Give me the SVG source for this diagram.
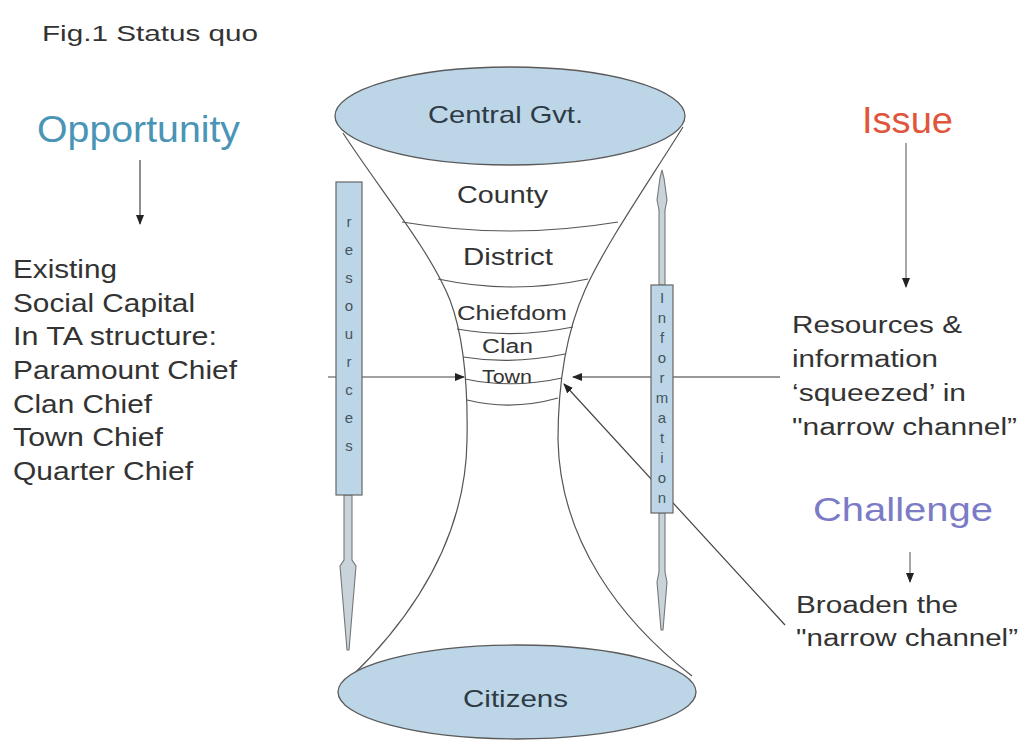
<svg xmlns="http://www.w3.org/2000/svg" width="1019" height="743" viewBox="0 0 1019 743">
<style>
text{font-family:"Liberation Sans",Arial,sans-serif;}
.t{fill:#333;}
.n{fill:#2e3b46;}
.v{fill:#46545f;font-size:15px;text-anchor:middle;}
.ell{fill:#bcd6e7;stroke:#5a5a5a;stroke-width:1.3;}
.fun{fill:none;stroke:#555;stroke-width:1.2;}
.con{fill:none;stroke:#444;stroke-width:1.2;}
.gcon{fill:none;stroke:#777;stroke-width:1.3;}
.bar{fill:#bcd6e7;stroke:#666;stroke-width:1.2;}
.shaft{fill:#c9d3da;stroke:#777;stroke-width:1.1;}
</style>
<defs>
<marker id="ah" markerWidth="10" markerHeight="8" refX="9" refY="4" orient="auto" markerUnits="userSpaceOnUse">
<path d="M0,0 L10,4 L0,8 Z" fill="#222"/>
</marker>
</defs>
<rect width="1019" height="743" fill="#fff"/>

<g id="connectors">
<line class="con" x1="328" y1="377" x2="464" y2="377" marker-end="url(#ah)"/>
<line class="gcon" x1="780" y1="377" x2="573" y2="377" marker-end="url(#ah)"/>
<line class="con" x1="785" y1="625" x2="564" y2="384" marker-end="url(#ah)"/>
<line class="con" x1="140" y1="160" x2="140" y2="224" marker-end="url(#ah)"/>
<line class="gcon" x1="906" y1="143" x2="906" y2="287" marker-end="url(#ah)"/>
<line class="gcon" x1="910" y1="552" x2="910" y2="582" marker-end="url(#ah)"/>
</g>

<g id="funnel">
<path class="fun" d="M343,133 C380,190 430,250 450,300 C465,340 468,390 467,440 C466,530 420,610 350,678"/>
<path class="fun" d="M683,127 C650,180 605,245 585,290 C565,335 558,390 558,440 C560,540 620,620 692,676"/>
<path class="fun" d="M402,222 Q510,240 618,222"/>
<path class="fun" d="M438,279 Q513,295 588,279"/>
<path class="fun" d="M457,329 Q515,339 573,327"/>
<path class="fun" d="M463,357 Q512,365 565,354"/>
<path class="fun" d="M465,379 Q512,389 562,378"/>
<path class="fun" d="M467,400 Q512,411 558,398"/>
</g>

<g id="central">
<ellipse class="ell" cx="510" cy="116" rx="175" ry="49"/>
<text class="n" x="428" y="123" font-size="24" textLength="155" lengthAdjust="spacingAndGlyphs">Central Gvt.</text>
</g>
<g id="county"><text class="t" x="457" y="203" font-size="24" textLength="91" lengthAdjust="spacingAndGlyphs">County</text></g>
<g id="district"><text class="t" x="463" y="265" font-size="24" textLength="90" lengthAdjust="spacingAndGlyphs">District</text></g>
<g id="chiefdom"><text class="t" x="457" y="320" font-size="21" textLength="110" lengthAdjust="spacingAndGlyphs">Chiefdom</text></g>
<g id="clan"><text class="t" x="482" y="353" font-size="20" textLength="51" lengthAdjust="spacingAndGlyphs">Clan</text></g>
<g id="town"><text class="t" x="482" y="383" font-size="18" textLength="50" lengthAdjust="spacingAndGlyphs">Town</text></g>
<g id="citizens">
<ellipse class="ell" cx="517" cy="692" rx="179" ry="47"/>
<text class="n" x="463" y="707" font-size="24" textLength="105" lengthAdjust="spacingAndGlyphs">Citizens</text>
</g>

<g id="resources">
<polygon class="shaft" points="344,495 352,495 352,560 356,566 354,590 349,650 347,650 342,590 340,566 344,560"/>
<rect class="bar" x="336" y="182" width="26" height="313"/>
<text class="v" x="349" y="227">r</text>
<text class="v" x="349" y="255">e</text>
<text class="v" x="349" y="283">s</text>
<text class="v" x="349" y="311">o</text>
<text class="v" x="349" y="339">u</text>
<text class="v" x="349" y="367">r</text>
<text class="v" x="349" y="395">c</text>
<text class="v" x="349" y="423">e</text>
<text class="v" x="349" y="451">s</text>
</g>

<g id="information">
<polygon class="shaft" points="662,170 664,178 667,200 665,210 665,285 659,285 659,210 657,200 660,178"/>
<polygon class="shaft" points="659,513 665,513 665,572 667,582 663,630 661,630 657,582 659,572"/>
<rect class="bar" x="651" y="285" width="22" height="228"/>
<text class="v" x="662" y="303">I</text>
<text class="v" x="662" y="323">n</text>
<text class="v" x="662" y="343">f</text>
<text class="v" x="662" y="363">o</text>
<text class="v" x="662" y="383">r</text>
<text class="v" x="662" y="403">m</text>
<text class="v" x="662" y="423">a</text>
<text class="v" x="662" y="443">t</text>
<text class="v" x="662" y="463">i</text>
<text class="v" x="662" y="483">o</text>
<text class="v" x="662" y="503">n</text>
</g>

<g id="title"><text class="t" x="42" y="41" font-size="22" textLength="216" lengthAdjust="spacingAndGlyphs">Fig.1 Status quo</text></g>

<g id="opportunity">
<text x="37" y="142" font-size="37" fill="#4a94b6" textLength="203" lengthAdjust="spacingAndGlyphs">Opportunity</text>
</g>
<g id="social-capital" class="t" font-size="25">
<text x="13" y="278" textLength="104" lengthAdjust="spacingAndGlyphs">Existing</text>
<text x="13" y="312" textLength="182" lengthAdjust="spacingAndGlyphs">Social Capital</text>
<text x="13" y="345" textLength="204" lengthAdjust="spacingAndGlyphs">In TA structure:</text>
<text x="13" y="379" textLength="224" lengthAdjust="spacingAndGlyphs">Paramount Chief</text>
<text x="13" y="413" textLength="139" lengthAdjust="spacingAndGlyphs">Clan Chief</text>
<text x="13" y="446" textLength="150" lengthAdjust="spacingAndGlyphs">Town Chief</text>
<text x="13" y="480" textLength="180" lengthAdjust="spacingAndGlyphs">Quarter Chief</text>
</g>

<g id="issue">
<text x="862" y="133" font-size="36" fill="#e0553c" textLength="91" lengthAdjust="spacingAndGlyphs">Issue</text>
</g>
<g id="squeezed" class="t" font-size="23">
<text x="792" y="333" textLength="170" lengthAdjust="spacingAndGlyphs">Resources &amp;</text>
<text x="792" y="367" textLength="146" lengthAdjust="spacingAndGlyphs">information</text>
<text x="792" y="401" textLength="174" lengthAdjust="spacingAndGlyphs">‘squeezed’ in</text>
<text x="792" y="435" textLength="225" lengthAdjust="spacingAndGlyphs">"narrow channel”</text>
</g>

<g id="challenge">
<text x="813" y="521" font-size="33" fill="#7b7bc6" textLength="180" lengthAdjust="spacingAndGlyphs">Challenge</text>
</g>
<g id="broaden" class="t" font-size="23">
<text x="796" y="613" textLength="162" lengthAdjust="spacingAndGlyphs">Broaden the</text>
<text x="796" y="646" textLength="222" lengthAdjust="spacingAndGlyphs">"narrow channel”</text>
</g>
</svg>
